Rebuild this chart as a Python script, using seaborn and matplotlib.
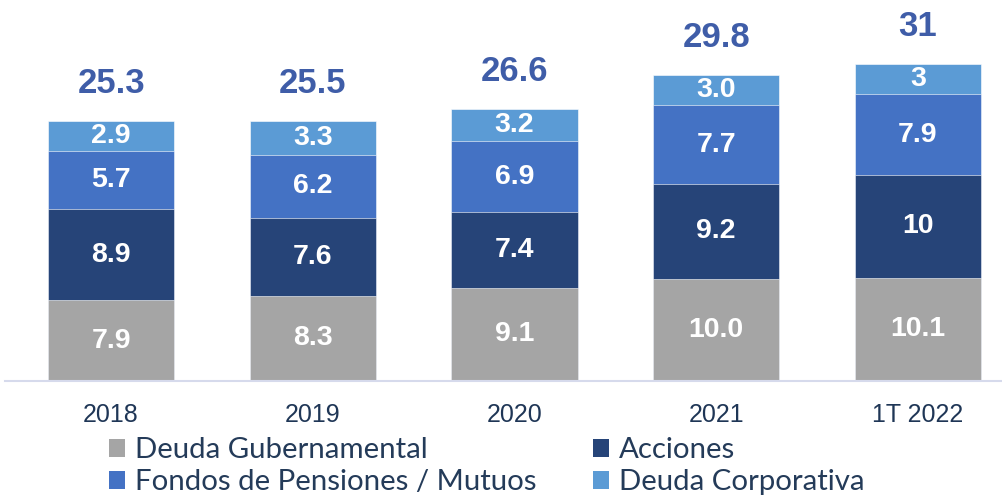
import matplotlib
matplotlib.use("Agg")
import matplotlib.pyplot as plt
from matplotlib.patches import Patch
import seaborn as sns
import numpy as np
import pandas as pd

categories = ["2018", "2019", "2020", "2021", "1T 2022"]
deuda_gub = [7.9, 8.3, 9.1, 10.0, 10.1]
acciones = [8.9, 7.6, 7.4, 9.2, 10]
fondos = [5.7, 6.2, 6.9, 7.7, 7.9]
deuda_corp = [2.9, 3.3, 3.2, 3.0, 3]
totals = [25.3, 25.5, 26.6, 29.8, 31]
seg_labels = [
    ["7.9", "8.3", "9.1", "10.0", "10.1"],
    ["8.9", "7.6", "7.4", "9.2", "10"],
    ["5.7", "6.2", "6.9", "7.7", "7.9"],
    ["2.9", "3.3", "3.2", "3.0", "3"],
]
total_labels = ["25.3", "25.5", "26.6", "29.8", "31"]
series_names = ["Deuda Gubernamental", "Acciones", "Fondos de Pensiones / Mutuos", "Deuda Corporativa"]
colors = ["#A5A5A5", "#264478", "#4472C4", "#5B9BD5"]

sns.set_style("white")
plt.rcParams["font.family"] = ["Liberation Sans", "DejaVu Sans"]

fig = plt.figure(figsize=(10.02, 4.95), dpi=100)
ax = fig.add_axes([5 / 1002, 114 / 495, 997 / 1002, 381 / 495])

series = [deuda_gub, acciones, fondos, deuda_corp]
cum = np.cumsum(np.array(series, dtype=float), axis=0)
df = pd.DataFrame({"cat": categories})

# draw from top layer down so lower segments overlay
for i in range(len(series) - 1, -1, -1):
    df["top"] = cum[i]
    sns.barplot(data=df, x="cat", y="top", color=colors[i], width=0.625,
                saturation=1, ax=ax, edgecolor="#FFFFFF", linewidth=0.4,
                order=categories)

for i in range(len(series)):
    bottoms = cum[i] - np.array(series[i], dtype=float)
    for j in range(len(categories)):
        ax.text(j, bottoms[j] + series[i][j] / 2, seg_labels[i][j],
                ha="center", va="center", color="white", fontsize=20.5,
                fontweight="bold")

for j in range(len(categories)):
    ax.text(j, cum[-1][j] + 3.65, total_labels[j], ha="center", va="center",
            color="#3F5DA8", fontsize=25, fontweight="bold")

ax.set_xlim(-0.526, 4.417)
ax.set_ylim(0, 37.2)
ax.set_xlabel("")
ax.set_ylabel("")
ax.set_yticks([])
for s in ["top", "right", "left"]:
    ax.spines[s].set_visible(False)
ax.spines["bottom"].set_color("#D6DAEC")
ax.spines["bottom"].set_linewidth(1.5)
ax.tick_params(axis="x", length=0, pad=16, labelsize=18, labelcolor="#1F3656")

handles = [Patch(facecolor=colors[k], edgecolor="none") for k in [0, 2, 1, 3]]
labels = [series_names[k] for k in [0, 2, 1, 3]]
fig.legend(handles, labels, ncol=2, loc="lower left",
           bbox_to_anchor=(97 / 1002, -12 / 495), frameon=False,
           prop={"family": ["Lato", "DejaVu Sans"], "size": 21.2},
           labelcolor="#243B59", handlelength=0.55, handleheight=0.55,
           handletextpad=0.35, columnspacing=1.9, labelspacing=0.2,
           borderaxespad=0)

fig.savefig("out.png", dpi=100)
